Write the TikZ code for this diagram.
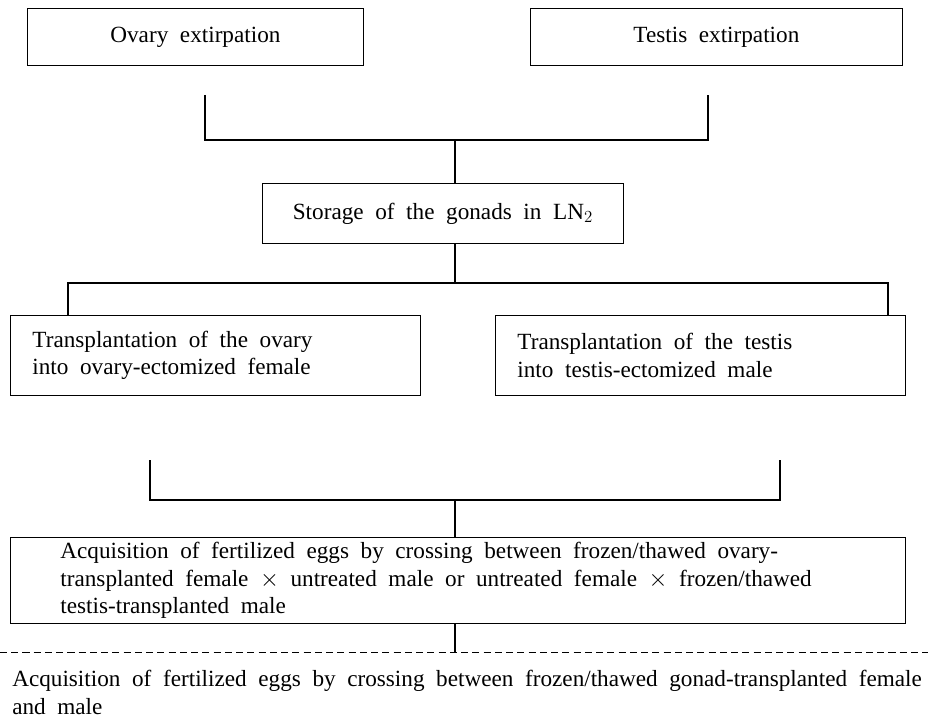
\documentclass[tikz,border=0pt]{standalone}
\usepackage{fontspec}
\setmainfont{Liberation Serif}
\usetikzlibrary{positioning}
\newcommand{\flowfont}{\fontsize{16.5}{19.5}\selectfont}
\newcommand{\widespace}{\spaceskip=0.5em\relax}

\begin{document}
\begin{tikzpicture}[
    box/.style={draw, line width=0.6pt, anchor=north west, inner sep=0pt,
                font=\flowfont, execute at begin node=\widespace},
    wbox/.style={box, align=left, inner xsep=0.55cm, text width=9.15cm},
    link/.style={draw, line width=0.9pt},
    plain/.style={anchor=north west, align=left, inner sep=0pt,
                  font=\flowfont, execute at begin node=\widespace}
  ]
  \useasboundingbox (0,0) rectangle (23.2,-18.075);

  % Row 1: extirpation
  \node[box, minimum width=8.4cm, minimum height=1.425cm] (ovex) at (0.675, -0.2) {Ovary extirpation};
  \node[box, minimum width=9.3cm, minimum height=1.425cm] (teex) at (13.25, -0.2) {Testis extirpation};

  % Storage
  \node[box, minimum width=9.025cm, minimum height=1.5cm] (store) at (6.55, -4.575) {Storage of the gonads in LN$_2$};

  % Row 2: transplantation
  \node[wbox, minimum height=2cm] (tpov) at (0.25, -7.875)
    {Transplantation of the ovary\\into ovary-ectomized female};
  \node[wbox, minimum height=2cm] (tpte) at (12.375, -7.875)
    {Transplantation of the testis\\into testis-ectomized male};

  % Crossing
  \node[box, align=left, inner xsep=1.25cm, text width=19.875cm, minimum height=2.15cm] (cross) at (0.25, -13.425)
    {Acquisition of fertilized eggs by crossing between frozen/thawed ovary-\\
     transplanted female $\times$ untreated male or untreated female $\times$ frozen/thawed\\
     testis-transplanted male};

  % Result below the dashed line
  \node[plain] (result) at (0.3, -16.75)
    {Acquisition of fertilized eggs by crossing between frozen/thawed gonad-transplanted female\\
     and male};

  % Bracket points
  \coordinate (j1l) at (5.125, -2.375);
  \coordinate (j1r) at (17.7, -2.375);
  \coordinate (j1m) at (11.375, -3.5);
  \coordinate (j2m) at (11.375, -7.075);
  \coordinate (j2l) at (1.7, -7.075);
  \coordinate (j2r) at (22.2, -7.075);
  \coordinate (j3l) at (3.75, -11.5);
  \coordinate (j3r) at (19.5, -11.5);
  \coordinate (j3m) at (11.375, -12.5);
  \coordinate (j4m) at (11.375, -16.3);
  \coordinate (dl) at (0, -16.3);
  \coordinate (dr) at (23.2, -16.3);

  % Connectors
  \draw[link] (j1l) |- (j1m) -| (j1r);
  \draw[link] (j1m) -- (store.north -| j1m);
  \draw[link] (store.south -| j2m) -- (j2m);
  \draw[link] (tpov.north -| j2l) |- (j2m) -| (tpte.north -| j2r);
  \draw[link] (j3l) |- (j3m) -| (j3r);
  \draw[link] (j3m) -- (cross.north -| j3m);
  \draw[link] (cross.south -| j4m) -- (j4m);
  \draw[line width=0.6pt, dash pattern=on 5pt off 3pt] (dl) -- (dr);
\end{tikzpicture}
\end{document}
